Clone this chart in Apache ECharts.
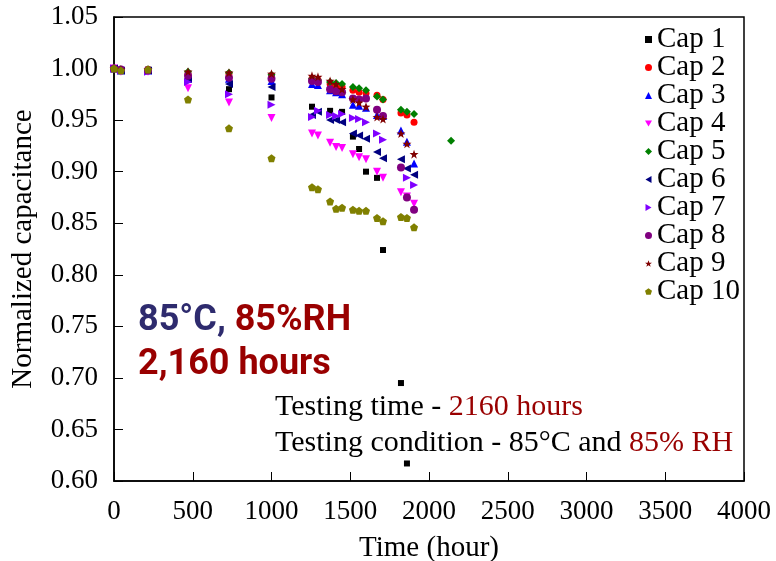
<!DOCTYPE html>
<html>
<head>
<meta charset="utf-8">
<script src="https://cdn.jsdelivr.net/npm/echarts@6/dist/echarts.min.js"></script>
<style>
  html, body { margin: 0; padding: 0; background: #fff; }
  #container { width: 776px; height: 561px; }
</style>
</head>
<body>
<div id="container"></div>
<script>
var myChart = echarts.init(document.getElementById('container'));

// test times (hours)
var times = [0, 44, 216, 470, 730, 1000, 1257, 1295, 1372, 1410, 1448, 1517, 1556, 1600, 1670, 1708, 1822, 1860, 1905];

var cap1 = [[0,1.000],[44,0.998],[216,0.999],[470,0.989],[730,0.980],[1000,0.972],[1257,0.963],[1372,0.959],[1448,0.958],[1517,0.934],[1556,0.922],[1600,0.900],[1670,0.894],[1708,0.824],[1822,0.695],[1860,0.617]];
var cap2 = [1.000, 0.999, 0.999, 0.995, 0.995, 0.993, 0.990, 0.989, 0.985, 0.983, 0.982, 0.979, 0.977, 0.976, 0.974, 0.970, 0.957, 0.955, 0.948];
var cap3 = [1.000, 0.998, 0.998, 0.990, 0.990, 0.988, 0.985, 0.984, 0.979, 0.977, 0.975, 0.965, 0.964, 0.962, 0.955, 0.954, 0.940, 0.929, 0.908];
var cap4 = [1.000, 0.997, 0.997, 0.981, 0.967, 0.952, 0.937, 0.935, 0.928, 0.924, 0.923, 0.917, 0.914, 0.912, 0.900, 0.894, 0.880, 0.876, 0.869];
var cap5 = [[0,1.000],[44,0.999],[216,0.999],[470,0.997],[730,0.996],[1000,0.994],[1257,0.990],[1295,0.989],[1372,0.987],[1410,0.986],[1448,0.985],[1517,0.982],[1556,0.981],[1600,0.979],[1670,0.973],[1708,0.970],[1822,0.960],[1860,0.958],[1905,0.956],[2140,0.930]];
var cap6 = [1.000, 0.998, 0.998, 0.990, 0.985, 0.982, 0.955, 0.958, 0.950, 0.950, 0.948, 0.937, 0.935, 0.932, 0.919, 0.913, 0.912, 0.903, 0.897];
var cap7 = [1.000, 0.998, 0.997, 0.987, 0.975, 0.965, 0.953, 0.959, 0.955, 0.954, 0.956, 0.952, 0.951, 0.948, 0.937, 0.931, null, 0.894, 0.887];
var cap8 = [1.000, 0.999, 0.998, 0.993, 0.991, 0.990, 0.988, 0.987, 0.980, 0.978, 0.977, 0.971, 0.970, 0.971, 0.960, 0.954, 0.904, 0.875, 0.863];
var cap9 = [1.000, 0.999, 0.999, 0.997, 0.996, 0.995, 0.993, 0.992, 0.988, 0.985, 0.980, 0.970, 0.967, 0.963, 0.953, 0.951, 0.937, 0.927, 0.917];
var cap10 = [1.000, 0.998, 0.999, 0.970, 0.942, 0.913, 0.885, 0.883, 0.871, 0.864, 0.865, 0.863, 0.862, 0.862, 0.855, 0.852, 0.856, 0.855, 0.846];

var capNames = ['Cap 1','Cap 2','Cap 3','Cap 4','Cap 5','Cap 6','Cap 7','Cap 8','Cap 9','Cap 10'];
var capColors = ['#000000','#FF0000','#0000FF','#FF00FF','#008000','#000080','#8000FF','#800080','#800000','#808000'];

function pair(vals) {
  var out = [];
  for (var i = 0; i < vals.length; i++) {
    if (vals[i] != null) out.push([times[i], vals[i]]);
  }
  return out;
}

// marker shapes
var triDown = 'path://M-10,-8.66 L10,-8.66 L0,8.66 Z';
var triLeft = 'path://M8.66,-10 L8.66,10 L-8.66,0 Z';
var triRight = 'path://M-8.66,-10 L-8.66,10 L8.66,0 Z';
var starPath = 'path://M0,-10 L2.35,-3.24 L9.51,-3.09 L3.8,1.24 L5.88,8.09 L0,4 L-5.88,8.09 L-3.8,1.24 L-9.51,-3.09 L-2.35,-3.24 Z';
var pentPath = 'path://M0,-10 L9.51,-3.09 L5.88,8.09 L-5.88,8.09 L-9.51,-3.09 Z';

var serif = '"Liberation Serif", "DejaVu Serif", serif';

function mk(i, data, symbol, size) {
  return {
    name: capNames[i],
    type: 'scatter',
    data: data,
    symbol: symbol,
    symbolSize: size,
    itemStyle: { color: capColors[i], opacity: 1 },
    z: 2 + i
  };
}

var option = {
  backgroundColor: '#ffffff',
  animation: false,
  grid: {
    left: 114, right: 32, top: 17, bottom: 80,
    outerBoundsMode: 'none',
    containLabel: false,
    show: true,
    borderColor: '#000',
    borderWidth: 1.5,
    backgroundColor: 'transparent'
  },
  legend: {
    orient: 'vertical',
    left: 640,
    top: 20,
    itemWidth: 7,
    itemHeight: 7,
    itemGap: -1,
    textStyle: { fontFamily: serif, fontSize: 29, color: '#000', lineHeight: 27 },
    data: capNames
  },
  xAxis: {
    type: 'value',
    min: 0, max: 4000, interval: 500,
    name: 'Time (hour)',
    nameLocation: 'middle',
    nameGap: 53,
    nameTextStyle: { fontFamily: serif, fontSize: 29, color: '#000' },
    axisLine: { lineStyle: { color: '#000', width: 1.5 } },
    axisTick: { inside: true, length: 9, lineStyle: { color: '#000' } },
    axisLabel: {
      fontFamily: serif, fontSize: 27, color: '#000', margin: 17,
      formatter: function (v) { return String(v); }
    },
    splitLine: { show: false }
  },
  yAxis: {
    type: 'value',
    min: 0.6, max: 1.05, interval: 0.05,
    name: 'Normalized capacitance',
    nameLocation: 'middle',
    nameGap: 76,
    nameTextStyle: { fontFamily: serif, fontSize: 29, color: '#000' },
    axisLine: { lineStyle: { color: '#000', width: 1.5 } },
    axisTick: { inside: true, length: 9, lineStyle: { color: '#000' } },
    axisLabel: {
      fontFamily: serif, fontSize: 27, color: '#000', margin: 16,
      formatter: function (v) { return v.toFixed(2); }
    },
    splitLine: { show: false }
  },
  graphic: [
    {
      type: 'text', left: 138, top: 303,
      style: {
        text: '{a|85°C, }{b|85%RH}',
        rich: {
          a: { fontFamily: 'Roboto', fontWeight: 'bold', fontSize: 36, fill: '#2E2B6E' },
          b: { fontFamily: 'Roboto', fontWeight: 'bold', fontSize: 36, fill: '#990000' }
        }
      }
    },
    {
      type: 'text', left: 138, top: 347,
      style: { text: '2,160 hours', fontFamily: 'Roboto', fontWeight: 'bold', fontSize: 36, fill: '#990000' }
    },
    {
      type: 'text', left: 275, top: 392,
      style: {
        text: '{a|Testing time - }{b|2160 hours}',
        rich: {
          a: { fontFamily: serif, fontSize: 30, fill: '#000' },
          b: { fontFamily: serif, fontSize: 30, fill: '#990000' }
        }
      }
    },
    {
      type: 'text', left: 275, top: 428,
      style: {
        text: '{a|Testing condition - 85°C and }{b|85% RH}',
        rich: {
          a: { fontFamily: serif, fontSize: 30, fill: '#000' },
          b: { fontFamily: serif, fontSize: 30, fill: '#990000' }
        }
      }
    }
  ],
  series: [
    mk(0, cap1, 'rect', 6),
    mk(1, pair(cap2), 'circle', 7),
    mk(2, pair(cap3), 'triangle', 8),
    mk(3, pair(cap4), triDown, 8),
    mk(4, cap5, 'diamond', 8),
    mk(5, pair(cap6), triLeft, 8),
    mk(6, pair(cap7), triRight, 8),
    mk(7, pair(cap8), 'circle', 8),
    mk(8, pair(cap9), starPath, 9),
    mk(9, pair(cap10), pentPath, 8)
  ]
};

myChart.setOption(option);
</script>
</body>
</html>
